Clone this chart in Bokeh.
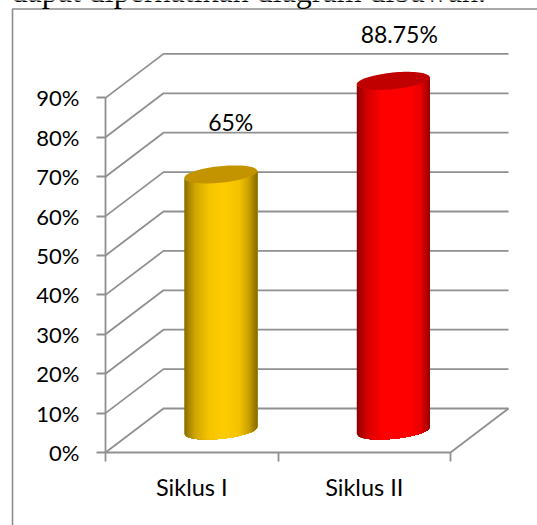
import numpy as np
from bokeh.plotting import figure
from bokeh.models import LinearAxis, FixedTicker, Range1d
from bokeh.core.properties import value
from bokeh.embed import file_html
from bokeh.resources import INLINE

categories = ["Siklus I", "Siklus II"]
values = [65, 88.75]
value_labels = ["65%", "88.75%"]
y_ticks = [0, 10, 20, 30, 40, 50, 60, 70, 80, 90]
y_labels = ["0%", "10%", "20%", "30%", "40%", "50%", "60%", "70%", "80%", "90%"]
body_colors = ["#FFCC00", "#FF0000"]
top_colors = ["#C49400", "#C00000"]
caption = "dapat diperhatikan diagram dibawah."

W, H = 537, 525
PX_U, PX_V = 172.5, 3.94      # pixels per category / per percent
X0, Y0 = 105, 452             # page position of the plot origin
DEPTH_U, DEPTH_V = 58 / PX_U, 44 / PX_V
GRID = "#909090"

def ux(px): return (px - X0) / PX_U
def vy(px): return (Y0 - px) / PX_V

p = figure(width=W, height=H, output_backend="svg", toolbar_location=None,
           x_range=Range1d(ux(0), ux(W)), y_range=Range1d(vy(H), vy(0)),
           x_axis_type=None, y_axis_type=None, min_border=0,
           outline_line_color=None, background_fill_color="white")
p.styles = {"position": "absolute", "left": "0px", "top": "0px"}
p.grid.visible = False

# surrounding frame
p.line([ux(W), ux(12), ux(12)], [vy(8.5), vy(8.5), vy(H)], line_color="#8C8C8C", line_width=1.6)
p.text([ux(11)], [vy(-10)], text=[caption], text_font=value("Liberation Serif"),
       text_font_size="32px", text_color="#000000", text_baseline="alphabetic")

# wall gridlines and floor
for t in y_ticks:
    p.line([0, DEPTH_U, 2 + DEPTH_U], [t, t + DEPTH_V, t + DEPTH_V], line_color=GRID, line_width=1.8)
p.line([2, 2 + DEPTH_U], [0, DEPTH_V], line_color=GRID, line_width=1.8)

# cylinders
A = 0.2115
B = 8.3 / PX_V
K = 4.2
T = np.array([0, 0.05, 0.15, 0.35, 0.55, 0.75, 0.88, 0.95, 1.0])
shades = [np.array([0.52, 0.64, 0.82, 0.97, 1.0, 0.96, 0.80, 0.64, 0.52]),
          np.array([0.54, 0.66, 0.84, 1.0, 1.0, 1.0, 0.90, 0.74, 0.58])]

def rgb(h):
    return np.array([int(h[i:i + 2], 16) for i in (1, 3, 5)], dtype=float)

def lower(d, lvl):
    return lvl + K * d - B * np.sqrt(np.clip(1 - (d / A) ** 2, 0, 1))

for i, val in enumerate(values):
    cu = i + 0.5 + DEPTH_U / 2
    base = DEPTH_V / 2
    edges = np.linspace(-A, A, 60)
    xs, ys, cols = [], [], []
    for j in range(len(edges) - 1):
        t = ((edges[j] + edges[j + 1]) / 2 + A) / (2 * A)
        c = rgb(body_colors[i]) * np.interp(t, T, shades[i])
        d = edges[j:]
        xs.append(np.concatenate([cu + d, cu + d[::-1]]))
        ys.append(np.concatenate([lower(d, base), lower(d[::-1], base + val)]))
        cols.append("#%02X%02X%02X" % tuple(int(v) for v in c))
    p.patches(xs, ys, fill_color=cols, line_color=None)
    th = np.linspace(0, 2 * np.pi, 80)
    dx = A * np.cos(th)
    p.patch(cu + dx, base + val + K * dx + B * np.sin(th), fill_color=top_colors[i], line_color=None)

# axes
yax = LinearAxis(fixed_location=0, ticker=FixedTicker(ticks=y_ticks),
                 major_label_overrides=dict(zip(y_ticks, y_labels)),
                 bounds=(0, 90), axis_line_color=GRID, axis_line_width=1.8,
                 major_tick_line_color=GRID, major_tick_line_width=1.8,
                 major_tick_in=0, major_tick_out=9, minor_tick_line_color=None,
                 major_label_standoff=17, major_label_text_font="Lato",
                 major_label_text_font_size="22px", major_label_text_color="#000000")
p.add_layout(yax, "left")

xax = LinearAxis(fixed_location=0, ticker=FixedTicker(ticks=[0.5, 1.5], minor_ticks=[0, 1, 2]),
                 major_label_overrides={0.5: categories[0], 1.5: categories[1]},
                 bounds=(0, 2), axis_line_color=GRID, axis_line_width=1.8,
                 major_tick_line_color=None, major_tick_in=0, major_tick_out=0,
                 minor_tick_line_color=GRID, minor_tick_line_width=1.8,
                 minor_tick_in=0, minor_tick_out=9,
                 major_label_standoff=11, major_label_text_font="Lato",
                 major_label_text_font_size="23.5px", major_label_text_color="#000000")
p.add_layout(xax, "below")

# value labels
for i, (val, lab, off) in enumerate(zip(values, value_labels, [-52.5, -47])):
    p.text([i + 0.5 + DEPTH_U / 2], [DEPTH_V / 2 + val], text=[lab], y_offset=off, x_offset=10 if i == 0 else 6,
           text_align="center", text_baseline="middle", text_font=value("Lato"),
           text_font_size="23px", text_color="#000000")

open("out.html", "w").write(file_html(p, INLINE))
